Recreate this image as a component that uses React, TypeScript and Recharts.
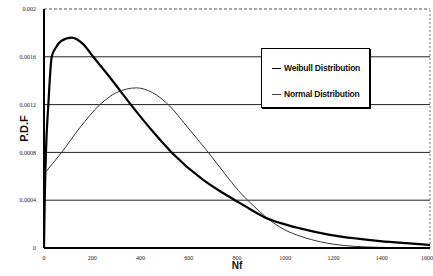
import React from 'react';
import {
  LineChart, Line, XAxis, YAxis, ReferenceLine, Label
} from 'recharts';

// Nf values and P.D.F readings
const weibullX = [0, 3, 8, 18, 32, 50, 70, 115, 160, 204, 280, 360, 453, 529, 660, 730, 792, 850, 916, 978, 1061, 1185, 1300, 1393, 1500, 1600];
const weibullY = [0, 0.0004, 0.0008, 0.0012, 0.0016, 0.00168, 0.00173, 0.00176, 0.00171, 0.0016, 0.00141, 0.0012, 0.00097, 0.0008, 0.00057, 0.000475, 0.0004, 0.00033, 0.000256, 0.00021, 0.000164, 0.00011, 0.000078, 0.000058, 0.00004, 0.000025];

const normalX = [0, 73, 150, 232, 300, 384, 450, 520, 591, 681, 750, 806, 870, 916, 1000, 1061, 1150, 1250, 1400, 1600];
const normalY = [0.00062, 0.0008, 0.00101, 0.0012, 0.0013, 0.00134, 0.0013, 0.00119, 0.00102, 0.0008, 0.00062, 0.00048, 0.00035, 0.000265, 0.00015, 0.0001, 0.00005, 0.00002, 0.000005, 0];

const xTicks = [0, 200, 400, 600, 800, 1000, 1200, 1400, 1600];
const yTicks = [0, 0.0004, 0.0008, 0.0012, 0.0016, 0.002];
const gridValues = [0.0004, 0.0008, 0.0012, 0.0016];
const seriesNames = ['Weibull Distribution', 'Normal Distribution'];

const weibullData = weibullX.map((x, i) => ({ x, y: weibullY[i] }));
const normalData = normalX.map((x, i) => ({ x, y: normalY[i] }));

const tickStyle = { fontSize: 6, fill: '#222', fontFamily: 'Liberation Serif' };

// legend drawn as an overlay so it doesn't eat plot space
const LegendBox = () => (
  <div style={{
    position: 'absolute', left: 261, top: 48, width: 109, height: 60,
    border: '1px solid #000', background: '#fff',
    boxShadow: '1px 1px 0 #000', fontFamily: 'Liberation Sans, Arial', fontSize: 8.5,
    fontWeight: 'bold', color: '#111', boxSizing: 'border-box'
  }}>
    {seriesNames.map((name, i) => (
      <div key={name} style={{
        position: 'absolute', left: 0, top: i === 0 ? 13 : 39,
        display: 'flex', alignItems: 'center', height: 12
      }}>
        <span style={{
          display: 'inline-block', width: 9, marginLeft: 10, marginRight: 3,
          borderTop: i === 0 ? '1.5px solid #000' : '1px solid #444'
        }} />
        <span style={{ letterSpacing: -0.2 }}>{name}</span>
      </div>
    ))}
  </div>
);

export default function App() {
  return (
    <div style={{ position: 'absolute', left: 0, top: 0, width: 433, height: 276, background: '#fff' }}>
      <LineChart width={433} height={276} margin={{ top: 9, right: 3, bottom: 8, left: 0 }}>
        <XAxis
          type="number" dataKey="x" domain={[0, 1600]} ticks={xTicks}
          tick={tickStyle} tickLine={false} axisLine={{ stroke: '#000', strokeWidth: 2 }}
          height={20} allowDataOverflow
        >
          <Label value="Nf" position="insideBottom" offset={-1}
            style={{ fontSize: 10, fontWeight: 'bold', fill: '#111', fontFamily: 'Liberation Sans' }} />
        </XAxis>
        <YAxis
          type="number" domain={[0, 0.002]} ticks={yTicks} width={44}
          tick={tickStyle} tickLine={false} axisLine={{ stroke: '#000', strokeWidth: 2 }}
          tickFormatter={(v: number) => String(v)} allowDataOverflow
        >
          <Label value="P.D.F" angle={-90} position="insideLeft" offset={24}
            style={{ fontSize: 11, fontWeight: 'bold', fill: '#111', fontFamily: 'Liberation Sans', textAnchor: 'middle' }} />
        </YAxis>
        {gridValues.map(v => (
          <ReferenceLine key={v} y={v} stroke="#222" strokeWidth={1} />
        ))}
        <ReferenceLine y={0.002} stroke="#555" strokeDasharray="3 2" />
        <ReferenceLine x={1600} stroke="#777" strokeDasharray="2 2" />
        <Line data={normalData} dataKey="y" name={seriesNames[1]} type="monotone"
          stroke="#333" strokeWidth={1} dot={false} isAnimationActive={false} />
        <Line data={weibullData} dataKey="y" name={seriesNames[0]} type="monotone"
          stroke="#000" strokeWidth={2.2} dot={false} isAnimationActive={false} />
      </LineChart>
      <LegendBox />
    </div>
  );
}
